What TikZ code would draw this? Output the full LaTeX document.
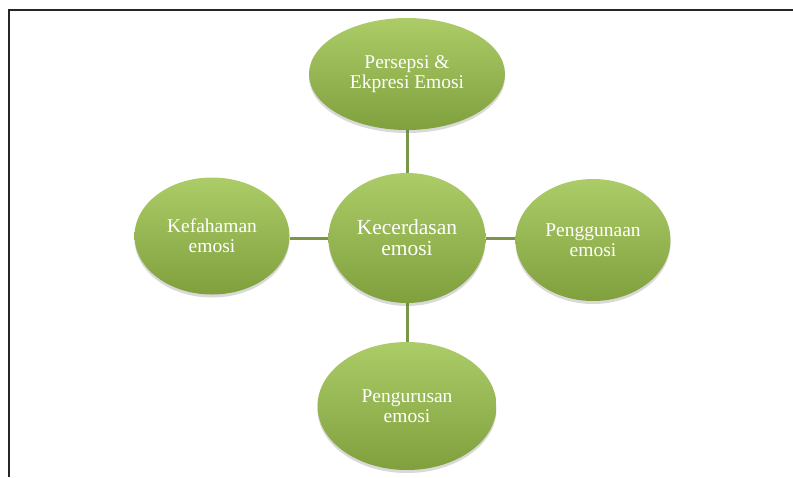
\documentclass[tikz,border=0pt]{standalone}
\usepackage{fontspec}
\setmainfont{Liberation Serif}
\usetikzlibrary{shapes.geometric,shadows,backgrounds}
\definecolor{gtop}{RGB}{172,204,104}
\definecolor{gbot}{RGB}{128,160,62}
\definecolor{linkc}{RGB}{122,150,72}
\tikzset{
  bubble/.style={ellipse, inner sep=0pt, top color=gtop, bottom color=gbot,
    draw=none, text=white, align=center,
    drop shadow={shadow xshift=0pt, shadow yshift=-3pt, opacity=0.25, fill=black!60},
    font=\fontsize{19.5}{20}\selectfont},
  link/.style={draw=linkc, line width=3pt}
}
\begin{document}
\begin{tikzpicture}[x=1pt,y=-1pt]
\useasboundingbox (0,0) rectangle (793,477);
\draw[line width=2pt, black!85] (9,477) -- (9,10) -- (793,10);
\node[bubble, minimum width=196pt, minimum height=112pt] (top) at (407,74) {Persepsi \&\\Ekpresi Emosi};
\node[bubble, minimum width=157pt, minimum height=130pt, font=\fontsize{21.5}{21}\selectfont] (mid) at (407,238) {Kecerdasan\\emosi};
\node[bubble, minimum width=155pt, minimum height=117pt] (left) at (212,236) {Kefahaman\\emosi};
\node[bubble, minimum width=155pt, minimum height=122pt] (right) at (593,240) {Penggunaan\\emosi};
\node[bubble, minimum width=179pt, minimum height=128pt] (bot) at (407,406) {Pengurusan\\emosi};
\begin{scope}[on background layer]
\draw[link] (top.south) -- (mid.north);
\draw[link] (mid.south) -- (bot.north);
\draw[link] (mid.west) -- (left.east |- mid.west);
\draw[link] (mid.east) -- (right.west |- mid.east);
\end{scope}
\end{tikzpicture}
\end{document}
